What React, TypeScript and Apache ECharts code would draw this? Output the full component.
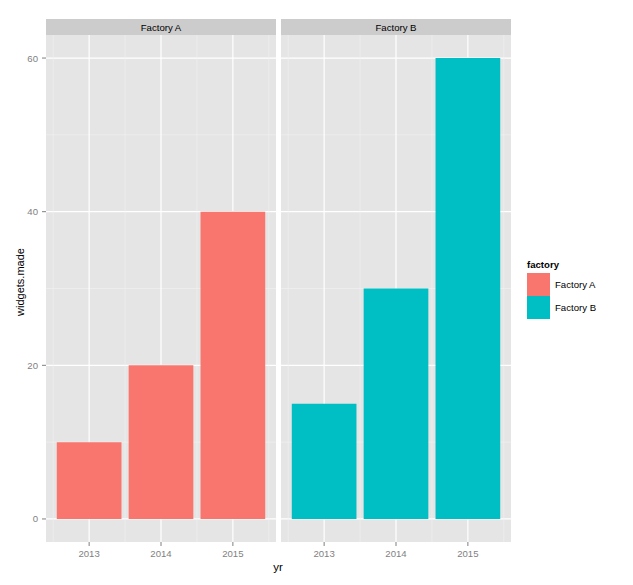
import React, { useEffect, useRef } from 'react';
import * as echarts from 'echarts';

const years = ['2013', '2014', '2015'];
const panels = ['Factory A', 'Factory B'];
const factoryA = [10, 20, 40];
const factoryB = [15, 30, 60];
const yMajor = [0, 20, 40, 60];
const yMinor = [10, 30, 50];
const xMajor = [1, 2, 3];
const xMinor = [0.5, 1.5, 2.5, 3.5];
const colors = ['#F8766D', '#00BFC4'];

const FONT = 'Liberation Sans, Arial, Helvetica, sans-serif';

export default function App() {
  const ref = useRef<HTMLDivElement>(null);
  useEffect(() => {
    if (!ref.current) return;
    const chart = echarts.init(ref.current, undefined, { renderer: 'svg' });
    const seriesValues = [factoryA, factoryB];
    const lefts = [46, 281];

    const gridData = [
      ...yMajor.map((v) => [v, 0]),
      ...yMinor.map((v) => [v, 1]),
      ...xMajor.map((v) => [v, 2]),
      ...xMinor.map((v) => [v, 3]),
    ];

    const makeRender = (panel: number) => (params: any, api: any) => {
      const cs = params.coordSys;
      const v = api.value(0);
      const k = api.value(1);
      const children: any[] = [];
      if (k === 0 || k === 1) {
        const y = api.coord([2, v])[1];
        children.push({
          type: 'line',
          shape: { x1: cs.x, y1: y, x2: cs.x + cs.width, y2: y },
          style: { stroke: k === 0 ? '#FFFFFF' : '#F2F2F2', lineWidth: k === 0 ? 1.2 : 0.6 },
        });
        if (k === 0 && panel === 0) {
          children.push({
            type: 'line',
            shape: { x1: cs.x - 4, y1: y, x2: cs.x, y2: y },
            style: { stroke: '#7F7F7F', lineWidth: 1 },
          });
        }
      } else {
        const x = api.coord([v, 0])[0];
        children.push({
          type: 'line',
          shape: { x1: x, y1: cs.y, x2: x, y2: cs.y + cs.height },
          style: { stroke: k === 2 ? '#FFFFFF' : '#F2F2F2', lineWidth: k === 2 ? 1.2 : 0.6 },
        });
        if (k === 2) {
          children.push({
            type: 'line',
            shape: { x1: x, y1: cs.y + cs.height, x2: x, y2: cs.y + cs.height + 4 },
            style: { stroke: '#7F7F7F', lineWidth: 1 },
          });
        }
      }
      return { type: 'group', children };
    };

    const option: any = {
      animation: false,
      grid: lefts.map((l) => ({
        left: l,
        top: 35,
        width: 230,
        height: 507,
        show: true,
        backgroundColor: '#E5E5E5',
        borderWidth: 0,
      })),
      xAxis: lefts.map((_, i) => ({
        gridIndex: i,
        type: 'value',
        min: 0.4,
        max: 3.6,
        interval: 0.1,
        axisLine: { show: false },
        axisTick: { show: false },
        splitLine: { show: false },
        axisLabel: {
          color: '#7F7F7F',
          fontSize: 9.6,
          fontFamily: FONT,
          margin: 6,
          formatter: (val: number) => {
            const r = Math.round(val);
            return Math.abs(val - r) < 1e-6 && r >= 1 && r <= years.length ? years[r - 1] : '';
          },
        },
      })),
      yAxis: lefts.map((_, i) => ({
        gridIndex: i,
        type: 'value',
        min: -3,
        max: 63,
        interval: 1,
        axisLine: { show: false },
        axisTick: { show: false },
        splitLine: { show: false },
        axisLabel: {
          show: i === 0,
          color: '#7F7F7F',
          fontSize: 9.6,
          fontFamily: FONT,
          margin: 8,
          formatter: (val: number) => (yMajor.includes(Math.round(val)) && Math.abs(val - Math.round(val)) < 1e-6 ? String(Math.round(val)) : ''),
        },
      })),
      legend: {
        orient: 'vertical',
        left: 527,
        top: 273,
        padding: 0,
        itemWidth: 23,
        itemHeight: 23,
        itemGap: 0,
        icon: 'rect',
        selectedMode: false,
        data: panels,
        textStyle: { fontSize: 9.6, color: '#000', fontFamily: FONT },
      },
      graphic: [
        ...lefts.map((l, i) => ({
          type: 'group',
          children: [
            { type: 'rect', shape: { x: l, y: 19, width: 230, height: 16 }, style: { fill: '#CCCCCC' } },
            {
              type: 'text',
              x: l + 115,
              y: 27.5,
              style: { text: panels[i], fill: '#000', fontSize: 9.6, fontFamily: FONT, align: 'center', verticalAlign: 'middle' },
            },
          ],
        })),
        {
          type: 'text',
          x: 278,
          y: 567,
          style: { text: 'yr', fill: '#000', fontSize: 11.5, fontFamily: FONT, align: 'center', verticalAlign: 'middle' },
        },
        {
          type: 'text',
          x: 20,
          y: 282,
          rotation: Math.PI / 2,
          style: { text: 'widgets.made', fill: '#000', fontSize: 11, fontFamily: FONT, align: 'center', verticalAlign: 'middle' },
        },
        {
          type: 'text',
          x: 527,
          y: 264,
          style: { text: 'factory', fill: '#000', fontSize: 9.6, fontWeight: 'bold', fontFamily: FONT, align: 'left', verticalAlign: 'middle' },
        },
      ],
      series: [
        ...lefts.map((_, i) => ({
          type: 'custom',
          name: 'grid' + i,
          xAxisIndex: i,
          yAxisIndex: i,
          silent: true,
          clip: false,
          z: 1,
          renderItem: makeRender(i),
          data: gridData,
        })),
        ...lefts.map((_, i) => ({
          type: 'bar',
          name: panels[i],
          xAxisIndex: i,
          yAxisIndex: i,
          barWidth: '90%',
          z: 3,
          itemStyle: { color: colors[i] },
          data: seriesValues[i].map((v, j) => [j + 1, v]),
        })),
      ],
    };
    chart.setOption(option);
    return () => chart.dispose();
  }, []);
  return <div ref={ref} style={{ position: 'absolute', left: 0, top: 0, width: 633, height: 585 }} />;
}
